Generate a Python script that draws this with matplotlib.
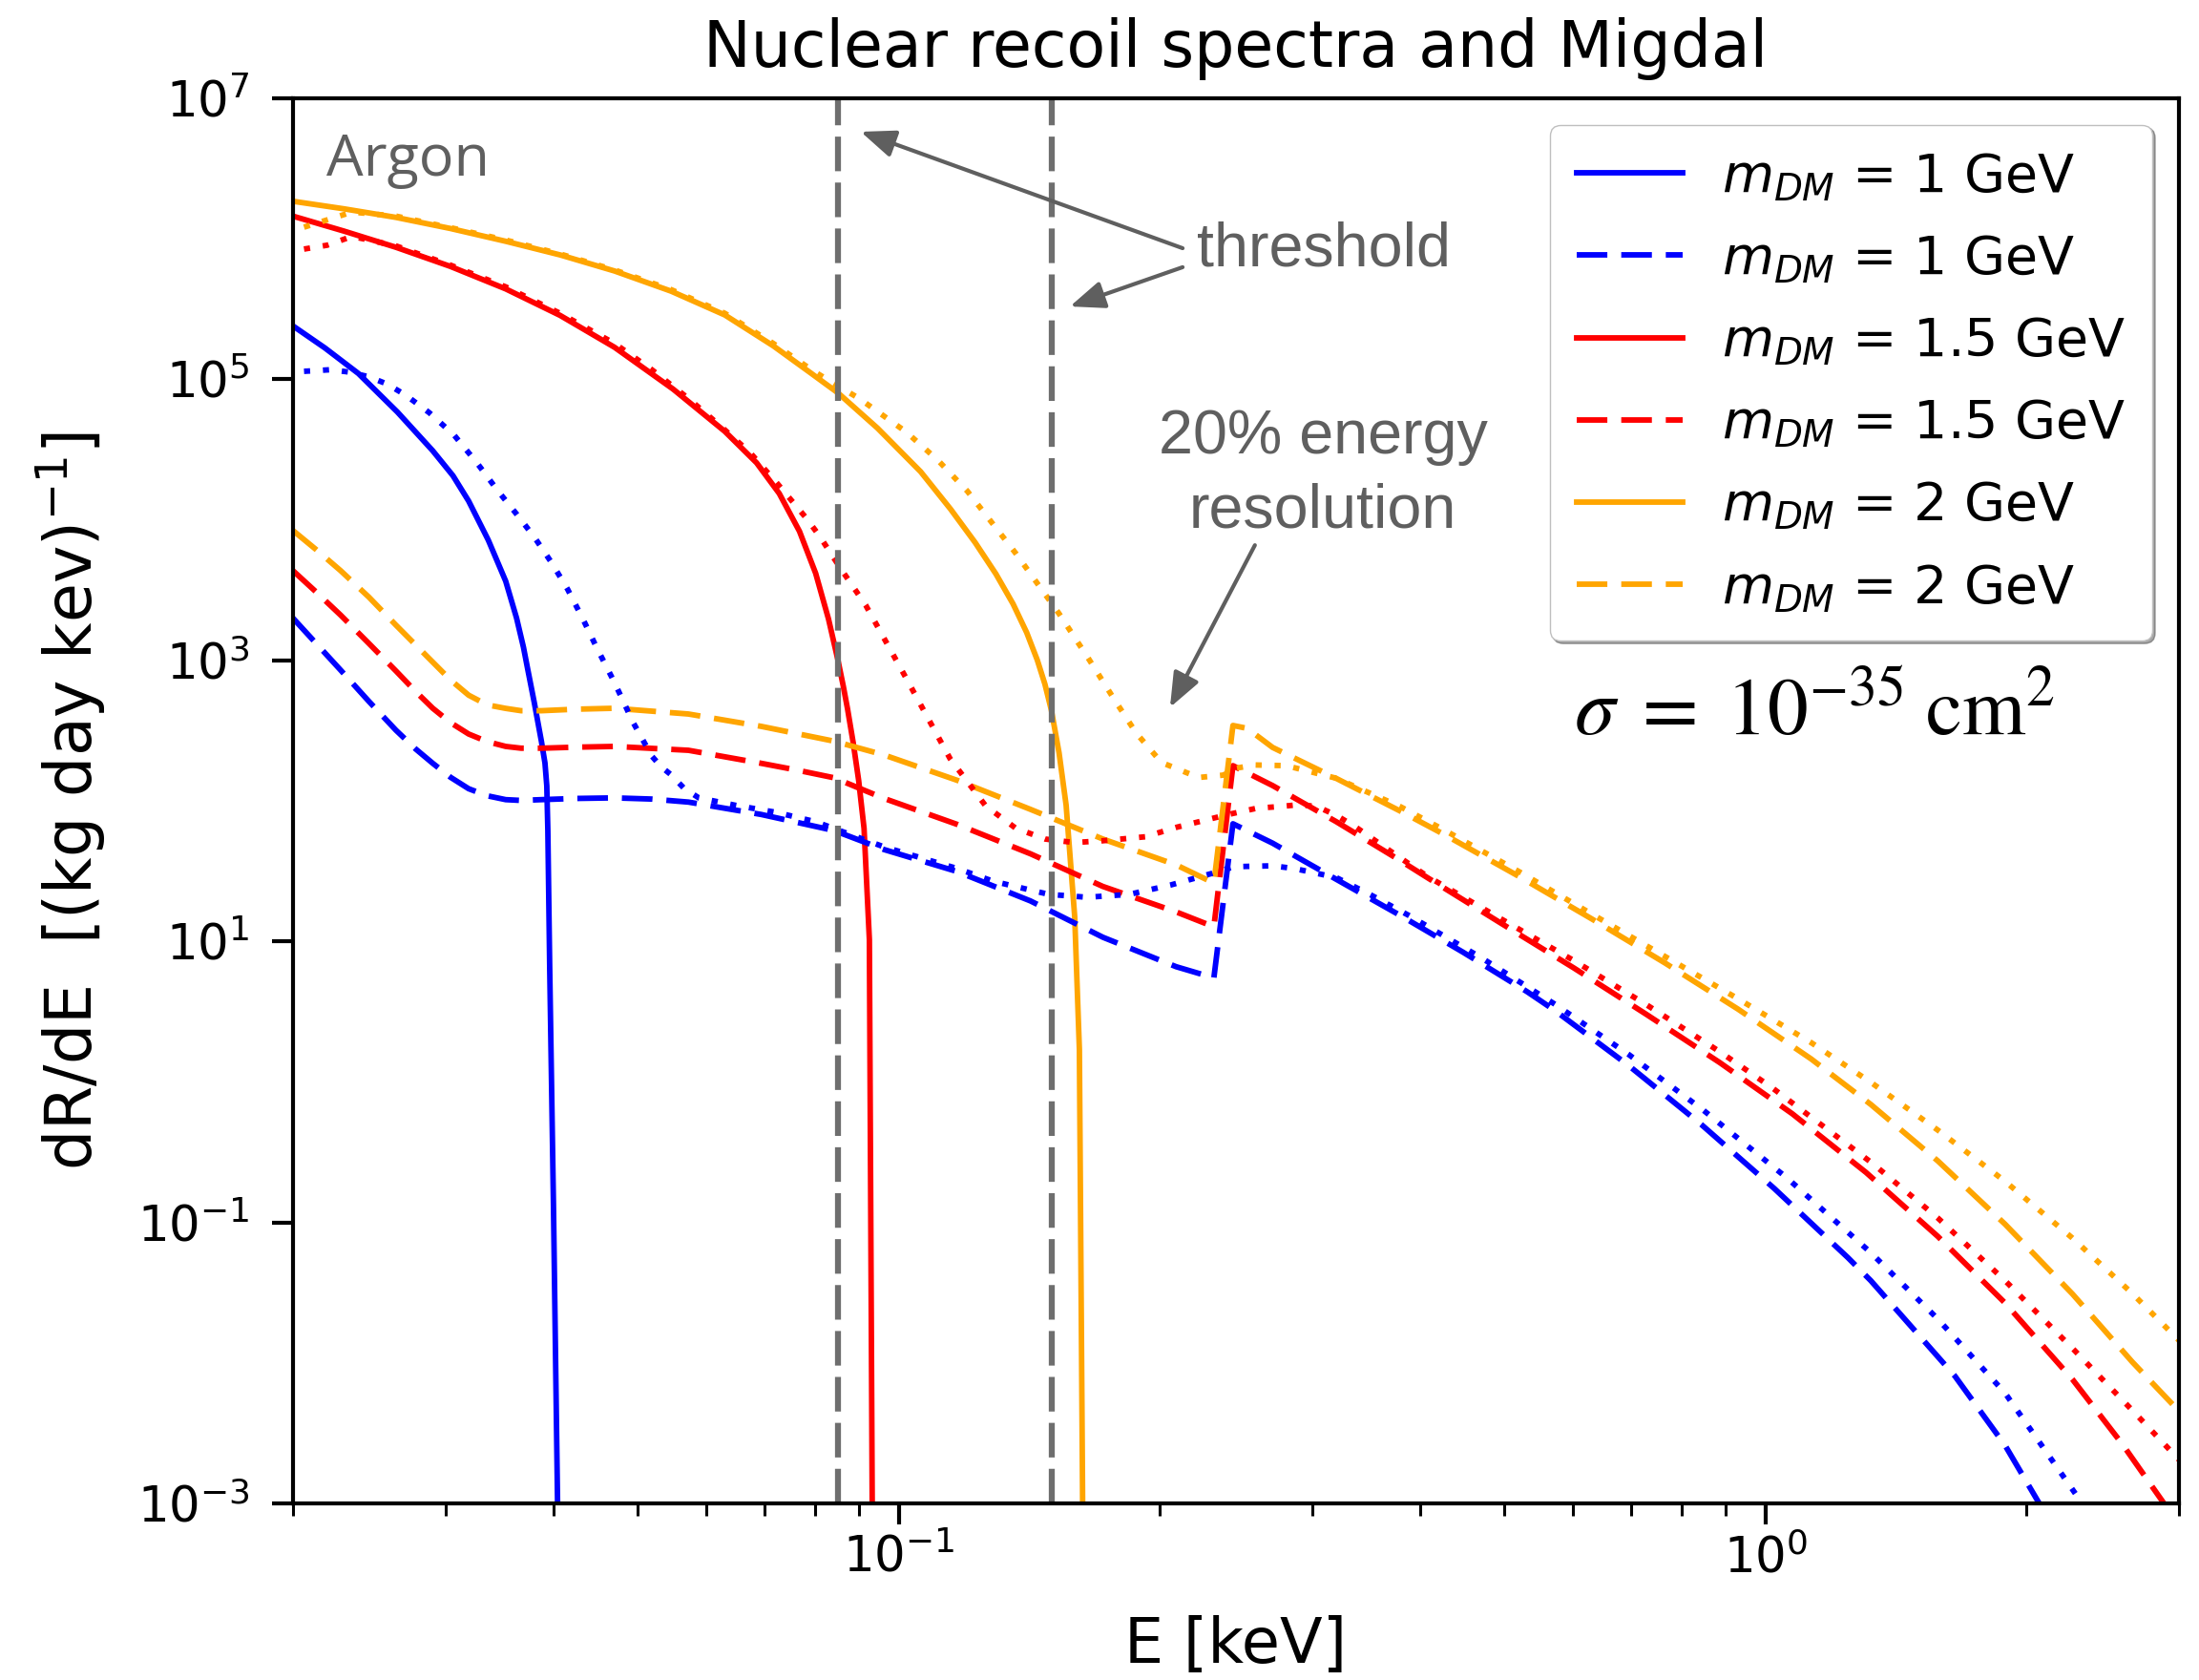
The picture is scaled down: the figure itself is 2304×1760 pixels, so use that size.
import matplotlib.pyplot as plt
from matplotlib.lines import Line2D
from matplotlib.ticker import NullLocator

# ---- values (E in keV, dR/dE in (kg day keV)^-1) ----
# nuclear recoil spectra (solid)
e_nr_1 = [0.02, 0.02178, 0.0238, 0.0264, 0.029, 0.0306, 0.0319, 0.03361, 0.0352, 0.03623, 0.0369,
          0.0373, 0.03798, 0.0387, 0.03907, 0.03926, 0.03937, 0.03956, 0.03996, 0.0404, 0.0405]
r_nr_1 = [2.4e5, 1.67e5, 1.1e5, 5.85e4, 3.1e4, 2.06e4, 1.36e4, 7.17e3, 3.66e3, 2.0e3, 1.24e3,
          880, 499, 266, 186, 128, 61.5, 6.8, 0.136, 1e-3, 1e-6]

e_nr_15 = [0.02, 0.02291, 0.0263, 0.03039, 0.0352, 0.04067, 0.047, 0.05491, 0.063, 0.06855, 0.0728,
           0.07682, 0.0802, 0.08298, 0.0851, 0.08632, 0.0873, 0.08862, 0.0899, 0.0912, 0.0925, 0.0932, 0.0933]
r_nr_15 = [1.45e6, 1.134e6, 8.7e5, 6.36e5, 4.4e5, 2.85e5, 1.69e5, 8.52e4, 4.26e4, 2.545e4, 1.54e4,
           8.29e3, 4.16e3, 1.97e3, 1.0e3, 652, 449, 258, 140, 63.7, 10.3, 1e-3, 1e-6]

e_nr_2 = [0.02, 0.02291, 0.0263, 0.03039, 0.0352, 0.04067, 0.047, 0.05462, 0.063, 0.07166, 0.0793,
          0.0851, 0.09453, 0.106, 0.11479, 0.1225, 0.12946, 0.1355, 0.14049, 0.1445, 0.14746, 0.150,
          0.1531, 0.156, 0.1596, 0.1616, 0.163, 0.1632]
r_nr_2 = [1.85e6, 1.634e6, 1.42e6, 1.184e6, 9.6e5, 7.68e5, 5.9e5, 4.24e5, 2.87e5, 1.73e5, 1.1e5,
          8.0e4, 4.49e4, 2.2e4, 1.19e4, 6.9e3, 4.12e3, 2.52e3, 1.576e3, 1.005e3, 677, 442,
          220, 93.4, 15, 1.7, 1e-3, 1e-6]

# Migdal spectra (dashed)
e_mig_1 = [0.02, 0.02128, 0.0227, 0.02447, 0.0263, 0.02771, 0.029, 0.03041, 0.0319, 0.03351, 0.0352,
           0.03667, 0.0387, 0.04237, 0.047, 0.05185, 0.0572, 0.0694, 0.0842, 0.0962, 0.1168, 0.1419,
           0.172, 0.209, 0.231, 0.243, 0.27, 0.3196, 0.379, 0.448, 0.531, 0.572, 0.695, 0.843, 1.023,
           1.245, 1.323, 1.654, 1.89, 2.07, 2.15]
r_mig_1 = [2.0e3, 1317, 853, 511, 318, 234, 185, 147, 122, 108.7, 102,
           100.7, 102, 104, 105, 103, 98, 80, 61.5, 45, 31.4, 19.4,
           10.7, 6.6, 5.5, 68.7, 50, 27.7, 15.3, 8.36, 4.38, 3.21, 1.31, 0.4985, 0.175,
           0.0561, 0.0385, 0.00807, 0.00259, 0.000998, 6.1e-4]

e_mig_15 = [0.02, 0.02128, 0.0227, 0.02447, 0.0263, 0.02771, 0.029, 0.03041, 0.0319, 0.03351, 0.0352,
            0.03667, 0.0387, 0.04237, 0.047, 0.0572, 0.0694, 0.0765, 0.0842, 0.0962, 0.1168, 0.1419,
            0.172, 0.209, 0.231, 0.243, 0.27, 0.3196, 0.379, 0.4074, 0.494, 0.601, 0.729, 0.886,
            1.074, 1.306, 1.58, 1.89, 2.26, 2.58, 2.87, 2.95]
r_mig_15 = [4.35e3, 3.06e3, 2.1e3, 1.32e3, 840, 600, 456, 360, 299, 264, 244,
            237, 237, 241, 244, 229, 185, 165, 146, 104, 68, 42,
            24.6, 16.2, 12.7, 178, 128.5, 71.2, 37.6, 28.4, 13.6, 6.47, 3.02, 1.37,
            0.593, 0.227, 0.0797, 0.0267, 0.00765, 0.00265, 0.00104, 8.1e-4]

e_mig_2 = [0.02, 0.02128, 0.0227, 0.02447, 0.0263, 0.0277, 0.029, 0.0304, 0.0319, 0.03351, 0.0352,
           0.03667, 0.0387, 0.04237, 0.047, 0.0572, 0.0694, 0.0842, 0.0962, 0.1168, 0.1419, 0.172,
           0.209, 0.231, 0.243, 0.2524, 0.27, 0.3196, 0.379, 0.428, 0.519, 0.631, 0.766, 0.93,
           1.129, 1.323, 1.58, 1.89, 2.26, 2.65, 3.0]
r_mig_2 = [8.4e3, 6.13e3, 4.35e3, 2.82e3, 1.78e3, 1.29e3, 971, 725, 565, 482, 455,
           438, 438, 449, 456, 415, 339, 266, 212, 140, 87, 53.5,
           35, 26, 344, 328, 240, 144.7, 84.6, 56.7, 29.1, 14.4, 7.01, 3.29,
           1.457, 0.691, 0.2746, 0.0971, 0.031, 0.01016, 0.00454]

# nuclear recoil with 20% energy resolution (dotted)
e_res_1 = [0.0206, 0.0221, 0.02323, 0.0245, 0.02569, 0.027, 0.02875, 0.0307, 0.0326, 0.0345, 0.03627,
           0.038, 0.03976, 0.0415, 0.04323, 0.0448, 0.047, 0.0494, 0.0519, 0.0532, 0.0545, 0.0566,
           0.0588, 0.0648, 0.0721, 0.0802, 0.0962, 0.1168, 0.1285, 0.149, 0.165, 0.1845, 0.206, 0.230,
           0.2437, 0.27, 0.286, 0.3196, 0.35, 0.388, 0.471, 0.572, 0.695, 0.849, 1.06, 1.323, 1.58,
           1.89, 2.32, 2.4]
r_res_1 = [1.14e5, 1.17e5, 1.126e5, 1.04e5, 9.25e4, 7.7e4, 5.77e4, 4.0e4, 2.55e4, 1.6e4, 1.09e4,
           7.5e3, 4.96e3, 3.2e3, 1.96e3, 1.24e3, 695, 360, 208, 175, 155, 122,
           105, 93, 83, 71, 47, 33, 26.8, 21.6, 20.6, 21.6, 25.2, 30.5,
           34, 34.5, 33, 28.5, 21.5, 15.26, 7.59, 3.56, 1.57, 0.625, 0.206, 0.0609, 0.0206,
           0.0061, 0.001, 7.2e-4]

e_res_15 = [0.0206, 0.0219, 0.0234, 0.0263, 0.03039, 0.0352, 0.04067, 0.047, 0.0519, 0.0572, 0.0624,
            0.0674, 0.0725, 0.078, 0.081, 0.0855, 0.0916, 0.102, 0.1146, 0.126, 0.1364, 0.1475,
            0.1594, 0.172, 0.1925, 0.2095, 0.224, 0.240, 0.259, 0.2747, 0.29, 0.304, 0.3196, 0.3356,
            0.37, 0.4074, 0.494, 0.601, 0.729, 0.886, 1.019, 1.33, 1.58, 1.89, 2.27, 2.65, 3.0]
r_res_15 = [8.45e5, 9.0e5, 1.04e6, 8.9e5, 6.5e5, 4.55e5, 2.95e5, 1.8e5, 1.17e5, 7.3e4, 4.6e4,
            3.0e4, 1.8e4, 1.05e4, 7.7e3, 4.6e3, 2.47e3, 746, 200, 92, 64, 53.5,
            50.5, 52, 55.5, 65, 72, 80, 88.7, 91, 94, 91, 79, 66,
            43.5, 29, 14.6, 7.3, 3.54, 1.638, 0.904, 0.262, 0.1078, 0.0385, 0.01238, 0.0046, 0.00205]

e_res_2 = [0.0206, 0.0234, 0.0263, 0.03039, 0.0352, 0.04067, 0.047, 0.05462, 0.063, 0.07166, 0.0793,
           0.0842, 0.090, 0.102, 0.111, 0.120, 0.1364, 0.1531, 0.1658, 0.1773, 0.188, 0.201,
           0.2218, 0.237, 0.2437, 0.258, 0.28, 0.3196, 0.379, 0.428, 0.519, 0.631, 0.766, 0.93,
           1.129, 1.323, 1.58, 1.89, 2.26, 2.65, 3.0]
r_res_2 = [1.21e6, 1.55e6, 1.45e6, 1.2e6, 9.8e5, 7.8e5, 6.0e5, 4.35e5, 2.95e5, 1.8e5, 1.17e5,
           9.3e4, 7.32e4, 4.22e4, 2.65e4, 1.6e4, 5.8e3, 2.15e3, 1.015e3, 527, 303, 187.5,
           146.6, 152.5, 170, 180, 178, 145, 91, 61, 31.5, 15.6, 7.8, 3.9,
           1.904, 0.993, 0.4547, 0.196, 0.0774, 0.0312, 0.01447]

thresholds = [0.085, 0.150]
masses = ['1', '1.5', '2']
colors = ['blue', 'red', 'orange']

gray = '#5f5f5f'
DASH = (5.5, 2.5)
DOT = (1.1, 2.3)
LW = 4.2

fig = plt.figure(figsize=(23.04, 17.6), dpi=100)
ax = fig.add_axes([0.1332, 0.1051, 0.8577, 0.8364])
ax.set_xscale('log')
ax.set_yscale('log')

nr = [(e_nr_1, r_nr_1), (e_nr_15, r_nr_15), (e_nr_2, r_nr_2)]
mig = [(e_mig_1, r_mig_1), (e_mig_15, r_mig_15), (e_mig_2, r_mig_2)]
res = [(e_res_1, r_res_1), (e_res_15, r_res_15), (e_res_2, r_res_2)]

for (e, r), c in zip(nr, colors):
    ax.plot(e, r, color=c, lw=LW)
for (e, r), c in zip(mig, colors):
    ax.plot(e, r, color=c, lw=LW, dashes=DASH)
for (e, r), c in zip(res, colors):
    ax.plot(e, r, color=c, lw=LW, dashes=DOT)

handles = []
for m, c in zip(masses, colors):
    lab = r'$m_{DM}$ = ' + m + ' GeV'
    handles.append(Line2D([], [], color=c, lw=LW, label=lab))
    handles.append(Line2D([], [], color=c, lw=LW, dashes=DASH, label=lab))

for t in thresholds:
    ax.axvline(t, color='#6e6e6e', lw=4.5, dashes=(5.8, 1.9))

ax.set_xlim(0.02, 3)
ax.set_ylim(1e-3, 1e7)
ax.set_yticks([1e-3, 1e-1, 1e1, 1e3, 1e5, 1e7])
ax.yaxis.set_minor_locator(NullLocator())

for s in ax.spines.values():
    s.set_linewidth(3)
ax.tick_params(which='major', length=15.5, width=3, labelsize=37)
ax.tick_params(which='minor', length=9.5, width=2.2)
ax.tick_params(axis='x', which='both', pad=8)
ax.tick_params(axis='y', which='both', pad=17)

ax.set_title('Nuclear recoil spectra and Migdal', fontsize=48, pad=24)
ax.set_xlabel('E [keV]', fontsize=47, labelpad=24)
ax.set_ylabel(r'dR/dE  [(kg day kev)$^{-1}$]', fontsize=48, labelpad=22)

ax.legend(handles=handles, loc='upper right', fontsize=40, shadow=True, fancybox=True,
          framealpha=1, edgecolor='0.75', borderaxespad=0.5, labelspacing=0.58,
          borderpad=0.5, handlelength=2.0, handletextpad=0.74)

# annotations
ax.text(0.02185, 2.8e6, 'Argon', fontsize=44, color=gray, family='Open Sans', va='baseline')
ax.text(0.2208, 6.46e5, 'threshold', fontsize=46.5, color=gray, family='Liberation Sans',
        va='baseline')
ax.text(0.3085, 2.97e4, '20% energy', fontsize=46.5, color=gray, family='Liberation Sans',
        ha='center', va='baseline')
ax.text(0.3085, 8.9e3, 'resolution', fontsize=46.5, color=gray, family='Liberation Sans',
        ha='center', va='baseline')

arrow = dict(arrowstyle='-|>,head_length=0.55,head_width=0.22', color=gray, lw=3,
             mutation_scale=40, shrinkA=0, shrinkB=0)
ax.annotate('', xy=(0.0904, 5.78e6), xytext=(0.2126, 8.57e5), arrowprops=arrow)
ax.annotate('', xy=(0.1576, 3.3e5), xytext=(0.2126, 6.28e5), arrowprops=arrow)
ax.annotate('', xy=(0.2056, 463), xytext=(0.2576, 6.6e3), arrowprops=arrow)

ax.text(0.601, 290, r'$\sigma\;=\;10^{-35}\;\mathrm{cm}^{2}$', fontsize=61.5,
        math_fontfamily='stix', va='baseline')

fig.savefig('out.png', dpi=100)
